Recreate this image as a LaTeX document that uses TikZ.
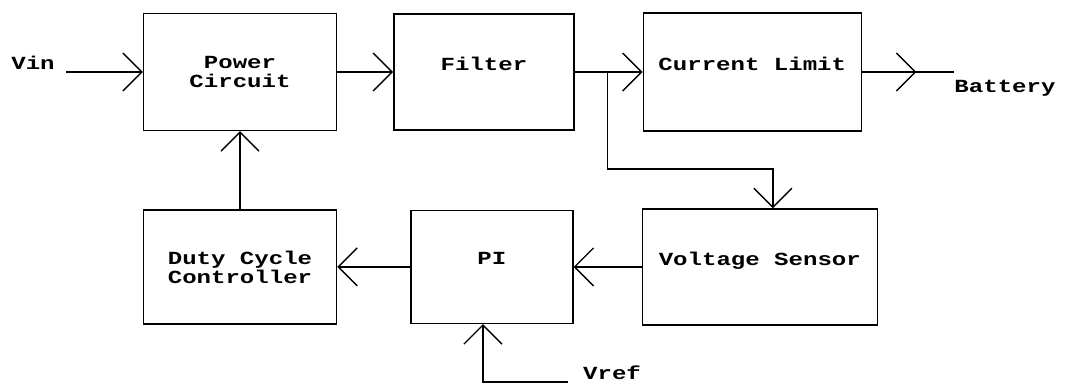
\documentclass[tikz,border=0pt]{standalone}
\usepackage{fontspec}
\newfontfamily\dotfont[FakeStretch=1.3]{Liberation Mono}
\usetikzlibrary{arrows.meta,positioning,calc}

\begin{document}
\begin{tikzpicture}[
  x=1pt, y=-1pt,
  blk/.style={rectangle, draw=black, line width=1.4pt, align=center,
              font=\dotfont\bfseries\fontsize{18.5}{19}\selectfont},
  oneline/.style={text depth=17pt},
  lbl/.style={font=\dotfont\bfseries\fontsize{18.5}{19}\selectfont, inner sep=1pt},
  wire/.style={line width=1.4pt, black},
  arr/.style={line width=1.4pt, black,
              -{Straight Barb[length=19pt, width=38pt, line width=1.4pt]}}
]
\useasboundingbox (0,0) rectangle (1068,384);

% Top row
\node[blk, minimum width=193pt, minimum height=117pt] (pc) at (240,72) {Power\\Circuit};
\node[blk, oneline, minimum width=180pt, minimum height=116pt, right=56pt of pc] (flt) {Filter};
\node[blk, oneline, minimum width=218pt, minimum height=118pt, right=68pt of flt] (cl) {Current Limit};

% Bottom row
\node[blk, minimum width=193pt, minimum height=114pt, below=78pt of pc] (dcc) {Duty Cycle\\Controller};
\node[blk, oneline, minimum width=162pt, minimum height=113pt, right=73pt of dcc] (pi) {PI};
\node[blk, oneline, minimum width=235pt, minimum height=116pt, right=68pt of pi] (vs) {Voltage Sensor};

% Terminals
\node[lbl] (vin)  at (33,63)   {Vin};
\node[lbl] (bat)  at (1005,88) {Battery};
\node[lbl] (vref) at (612,373) {Vref};
\coordinate (vinstart) at (66,72);
\coordinate (batend)   at ($(cl.east)+(92,0)$);
\coordinate (refstart) at (568,382);
\coordinate (tap) at ($(flt.east)!0.48!(cl.west)$);

% Forward path
\draw[arr] (vinstart) -- (pc.west);
\draw[arr] (pc) -- (flt);
\draw[arr] (flt) -- (cl);
\draw[wire] (cl.east) -- (batend);
\draw[arr] (cl.east) -- ($(cl.east)!0.59!(batend)$);

% Feedback path
\draw[arr] (tap) -- ++(0,97) -| ([xshift=13pt]vs.north);
\draw[arr] (vs) -- (pi);
\draw[arr] (pi) -- (dcc);
\draw[arr] (dcc) -- (pc);
\draw[arr] (refstart) -| ([xshift=-9pt]pi.south);

\end{tikzpicture}
\end{document}
